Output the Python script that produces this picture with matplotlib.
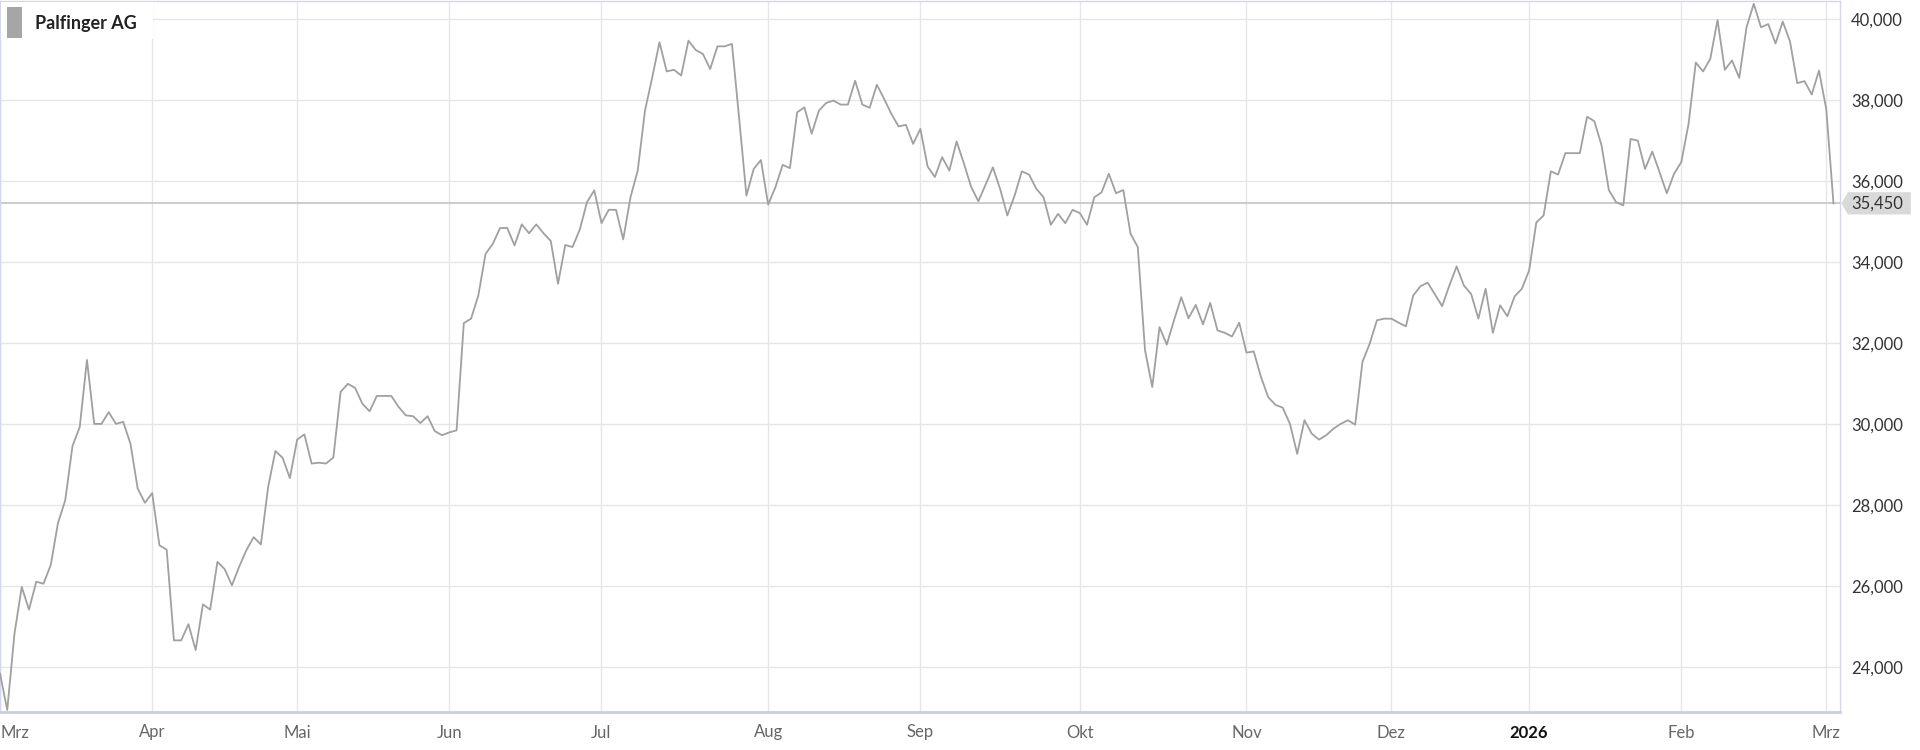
import numpy as np
import matplotlib
matplotlib.use("Agg")
import matplotlib.pyplot as plt
from matplotlib.patches import Polygon, Rectangle
from matplotlib.transforms import blended_transform_factory

plt.rcParams['font.family'] = ['Lato', 'DejaVu Sans']

name = "Palfinger AG"

# daily closing prices, one per trading day (Mar 2025 - Mar 2026)
prices = [
    23830, 22930, 24820, 25970, 25410, 26100, 26050, 26510, 27550, 28110,
    29450, 29920, 31580, 30000, 30000, 30290, 30000, 30050, 29510, 28400,
    28050, 28290, 27000, 26890, 24650, 24650, 25050, 24410, 25540, 25410,
    26590, 26410, 26010, 26470, 26880, 27200, 27020, 28440, 29330, 29160,
    28660, 29610, 29740, 29020, 29040, 29020, 29170, 30790, 30990, 30890,
    30500, 30310, 30690, 30690, 30690, 30420, 30210, 30190, 30020, 30190,
    29820, 29720, 29790, 29840, 32490, 32600, 33170, 34200, 34450, 34840,
    34840, 34410, 34930, 34710, 34930, 34710, 34520, 33460, 34420, 34370,
    34800, 35480, 35770, 34960, 35290, 35290, 34560, 35600, 36260, 37740,
    38560, 39430, 38710, 38750, 38610, 39470, 39240, 39140, 38770, 39330,
    39330, 39390, 37540, 35640, 36300, 36520, 35420, 35850, 36400, 36320,
    37700, 37820, 37170, 37740, 37930, 37990, 37890, 37890, 38480, 37890,
    37810, 38380, 38030, 37660, 37350, 37390, 36920, 37290, 36360, 36100,
    36590, 36260, 36980, 36440, 35860, 35500, 35910, 36340, 35810, 35150,
    35640, 36240, 36160, 35810, 35600, 34920, 35190, 34960, 35290, 35210,
    34920, 35600, 35720, 36180, 35700, 35780, 34700, 34370, 31820, 30910,
    32390, 31960, 32560, 33130, 32610, 32940, 32460, 32990, 32310, 32250,
    32160, 32500, 31760, 31790, 31160, 30660, 30470, 30400, 30000, 29260,
    30090, 29760, 29610, 29720, 29880, 30000, 30090, 29980, 31530, 31980,
    32560, 32600, 32600, 32500, 32410, 33170, 33400, 33490, 33200, 32910,
    33420, 33890, 33420, 33210, 32600, 33340, 32250, 32930, 32660, 33150,
    33340, 33790, 34980, 35150, 36240, 36160, 36690, 36690, 36690, 37590,
    37480, 36880, 35780, 35480, 35400, 37040, 37000, 36300, 36730, 36220,
    35700, 36180, 36470, 37410, 38930, 38710, 39020, 39980, 38750, 38980,
    38550, 39800, 40380, 39800, 39880, 39400, 39940, 39450, 38420, 38470,
    38140, 38730, 37780, 35450,
]

# first trading day of each month (index into prices)
month_idx = [0, 21, 41, 62, 83, 106, 127, 149, 172, 192, 211, 232, 252]
month_labels = ["Mrz", "Apr", "Mai", "Jun", "Jul", "Aug", "Sep", "Okt",
                "Nov", "Dez", "2026", "Feb", "Mrz"]
y_ticks = [24000, 26000, 28000, 30000, 32000, 34000, 36000, 38000, 40000]

W, H = 1920, 750
fig = plt.figure(figsize=(W / 100, H / 100), dpi=100)
ax = fig.add_axes([0, 38 / H, 1840 / W, 711 / H])

x = np.arange(len(prices))
ax.plot(x, prices, color='#a0a0a0', lw=1.3, zorder=3)
last = prices[-1]
ax.axhline(last, color='#c4c4c4', lw=1.2, zorder=2)

ax.set_xlim(0, 253.9)
ax.set_ylim(22880, 40450)

ax.set_xticks(month_idx)
ax.set_xticklabels(month_labels)
ax.set_yticks(y_ticks)
ax.set_yticklabels([f"{v:,}" for v in y_ticks])
ax.yaxis.tick_right()
ax.tick_params(axis='y', length=0, pad=8, labelsize=12, labelcolor='#333333')
ax.tick_params(axis='x', length=0, pad=9, labelsize=12, labelcolor='#666666')
labels = ax.get_xticklabels()
labels[0].set_horizontalalignment('left')
labels[10].set_fontweight('bold')
labels[10].set_color('#111111')

ax.grid(True, color='#e6e6e6', lw=1, zorder=0)
ax.set_axisbelow(True)
for side in ['left', 'top', 'right']:
    ax.spines[side].set_color('#d3d6ec')
    ax.spines[side].set_linewidth(1)
ax.spines['bottom'].set_color('#c9cce6')
ax.spines['bottom'].set_linewidth(2)

# last price marker on the right axis
tr = blended_transform_factory(ax.transAxes, ax.transData)
h = 275
tag = Polygon([(1.0008, last), (1.0043, last + h), (1.0385, last + h),
               (1.0385, last - h), (1.0043, last - h)],
              closed=True, transform=tr, facecolor='#d9d9d9',
              edgecolor='none', clip_on=False, zorder=5)
ax.add_patch(tag)
ax.text(1.0062, last, f"{last:,}", transform=tr, va='center', ha='left',
        fontsize=12, color='#333333', zorder=6, clip_on=False)

# legend box top left
fig.patches.append(Rectangle((1 / W, 1 - 39 / H), 152 / W, 37 / H,
                             transform=fig.transFigure, facecolor='white',
                             edgecolor='none', zorder=10))
fig.patches.append(Rectangle((7 / W, 1 - 38 / H), 15 / W, 31 / H,
                             transform=fig.transFigure, facecolor='#a6a6a6',
                             edgecolor='none', zorder=11))
fig.text(35 / W, 1 - 24 / H, name, fontsize=13, fontweight='bold',
         color='#222222', va='center', ha='left', zorder=12)

fig.savefig("out.png", dpi=100)
